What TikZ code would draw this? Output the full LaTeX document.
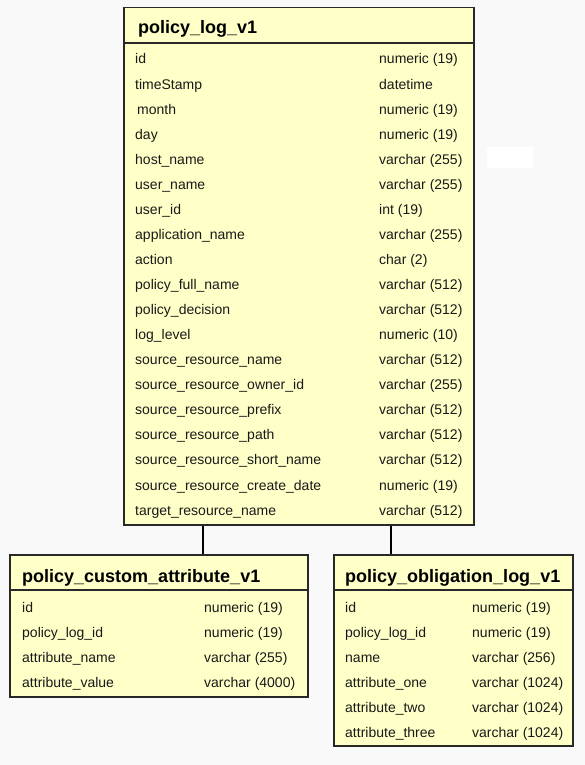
\documentclass[tikz,border=0pt]{standalone}
\usepackage{fontspec}
\setmainfont{Liberation Sans}
\definecolor{bgcol}{RGB}{249,249,249}
\definecolor{tabfill}{RGB}{255,255,200}
\definecolor{tabline}{RGB}{40,40,40}
\tikzset{
  tablebox/.style={draw=tabline, line width=1.5pt, fill=tabfill, inner sep=0pt, anchor=north west},
  sepline/.style={draw=tabline, line width=1.2pt},
  titletext/.style={anchor=base west, inner sep=0pt, font=\fontsize{18}{20}\selectfont\bfseries},
  celltext/.style={anchor=base west, inner sep=0pt, font=\fontsize{14}{16}\selectfont, text=black!90},
  relline/.style={draw=black, line width=2pt}
}
\begin{document}
\begin{tikzpicture}[x=1pt,y=-1pt]
\fill[bgcol] (0,0) rectangle (585,765);
\useasboundingbox (0,0) rectangle (585,765);
\fill[white] (487,147) rectangle (533,168);
% tables
\node[tablebox, minimum width=350pt, minimum height=517pt] (main) at (123,7) {};
\node[tablebox, minimum width=298pt, minimum height=142pt] (cust) at (9,554) {};
\node[tablebox, minimum width=239pt, minimum height=191pt] (obl) at (333,554) {};
% header separators
\coordinate (mh) at (0,43);
\coordinate (ch) at (0,590);
\draw[sepline] (main.west |- mh) -- (main.east |- mh);
\draw[sepline] (cust.west |- ch) -- (cust.east |- ch);
\draw[sepline] (obl.west |- ch) -- (obl.east |- ch);
% titles
\node[titletext] (maint) at (138,34) {policy\_log\_v1};
\node[titletext] (custt) at (22,582) {policy\_custom\_attribute\_v1};
\node[titletext] (oblt) at (345,582) {policy\_obligation\_log\_v1};
% main rows
\foreach \n/\t [count=\i from 0] in {
  id/numeric (19),
  timeStamp/datetime,
  \hspace{2pt}month/numeric (19),
  day/numeric (19),
  host\_name/varchar (255),
  user\_name/varchar (255),
  user\_id/int (19),
  application\_name/varchar (255),
  action/char (2),
  policy\_full\_name/varchar (512),
  policy\_decision/varchar (512),
  log\_level/numeric (10),
  source\_resource\_name/varchar (512),
  source\_resource\_owner\_id/varchar (255),
  source\_resource\_prefix/varchar (512),
  source\_resource\_path/varchar (512),
  source\_resource\_short\_name/varchar (512),
  source\_resource\_create\_date/numeric (19),
  target\_resource\_name/varchar (512)}{
  \node[celltext] (mn\i) at (135,64+25.06*\i) {\n};
  \node[celltext] (mt\i) at (379,64+25.06*\i) {\t};
}
% custom attribute rows
\foreach \n/\t [count=\i from 0] in {
  id/numeric (19),
  policy\_log\_id/numeric (19),
  attribute\_name/varchar (255),
  attribute\_value/varchar (4000)}{
  \node[celltext] (cn\i) at (22,612+25*\i) {\n};
  \node[celltext] (ct\i) at (204,612+25*\i) {\t};
}
% obligation rows
\foreach \n/\t [count=\i from 0] in {
  id/numeric (19),
  policy\_log\_id/numeric (19),
  name/varchar (256),
  attribute\_one/varchar (1024),
  attribute\_two/varchar (1024),
  attribute\_three/varchar (1024)}{
  \node[celltext] (on\i) at (345,612+25*\i) {\n};
  \node[celltext] (ot\i) at (472,612+25*\i) {\t};
}
% relationships
\coordinate (lc) at (203,0);
\coordinate (rc) at (391,0);
\draw[relline] (main.south -| lc) -- (cust.north -| lc);
\draw[relline] (main.south -| rc) -- (obl.north -| rc);
\end{tikzpicture}
\end{document}
